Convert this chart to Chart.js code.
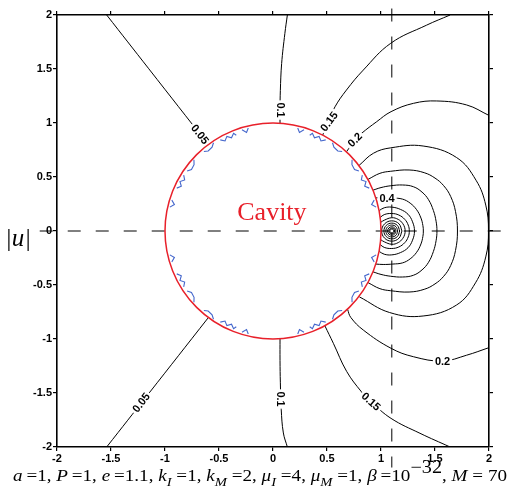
<!DOCTYPE html>
<html>
<head>
<meta charset="utf-8">
<script src="https://cdn.jsdelivr.net/npm/chart.js@4.4.1/dist/chart.umd.min.js"></script>
<style>
  html, body { margin: 0; padding: 0; background: #fff; }
  #wrap { width: 529px; height: 493px; }
</style>
</head>
<body>
<div id="wrap"><canvas id="c" width="529" height="493"></canvas></div>
<script>
// ---- axis ticks ----
const axisTicks = [-2, -1.5, -1, -0.5, 0, 0.5, 1, 1.5, 2];
const axisTickLabels = ['-2', '-1.5', '-1', '-0.5', '0', '0.5', '1', '1.5', '2'];

// ---- geometry: cavity of radius a at the origin, load at x = e ----
const cavity = { x: 0, y: 0, r: 1 };
const sourceX = 1.1;
const horizontalGuide = [-2.16, 2.2];   // x extent of the y = 0 dashed line
const verticalGuide = [2.06, -2.19];    // y extent of the x = e dashed line

// ---- contour lines of |u| ([x, y] pairs) ----
const level005Upper = [[-1.54, 2.0], [-1.15, 1.502], [-0.6, 0.8]];
const level005Lower = [[-1.54, -2.0], [-1.15, -1.504], [-0.602, -0.806]];
const level01Upper = [[0.133, 2.0], [0.11, 1.83], [0.08, 1.55], [0.068, 1.3], [0.065, 1.12], [0.065, 0.998]];
const level01Lower = [[0.065, -0.998], [0.065, -1.2], [0.068, -1.4], [0.076, -1.65], [0.096, -1.87], [0.133, -2.0]];
const level015Upper = [[1.64, 2.0], [1.42, 1.905], [1.09, 1.738], [0.836, 1.49], [0.68, 1.305], [0.574, 1.15], [0.514, 1.014], [0.46, 0.888]];
const level015Lower = [[0.48, -0.877], [0.559, -1.04], [0.682, -1.3], [0.82, -1.49], [0.907, -1.58], [1.093, -1.735], [1.361, -1.873], [1.64, -2.0]];
const level02Upper = [[0.68, 0.733], [0.759, 0.843], [0.821, 0.905], [0.96, 1.012], [1.093, 1.105], [1.3, 1.182], [1.516, 1.204], [1.793, 1.167], [2.0, 1.07]];
const level02Lower = [[0.69, -0.724], [0.72, -0.8], [0.836, -0.917], [1.093, -1.086], [1.3, -1.164], [1.57, -1.204], [1.793, -1.15], [2.0, -1.08]];
const level025 = [[0.797, 0.607], [0.93, 0.72], [1.09, 0.77], [1.39, 0.787], [1.7, 0.68], [1.88, 0.47], [1.97, 0.24], [1.995, 0],
                  [1.97, -0.24], [1.875, -0.48], [1.7, -0.685], [1.39, -0.787], [1.08, -0.755], [0.8, -0.61]];
const level03 = [[0.88, 0.478], [0.99, 0.534], [1.09, 0.553], [1.26, 0.565], [1.4, 0.54], [1.5, 0.49], [1.58, 0.42], [1.645, 0.32], [1.69, 0.18], [1.708, 0],
                 [1.69, -0.18], [1.645, -0.32], [1.58, -0.42], [1.5, -0.49], [1.4, -0.54], [1.26, -0.565], [1.09, -0.553], [0.99, -0.534], [0.88, -0.478]];
const level035 = [[0.926, 0.378], [1.0, 0.402], [1.09, 0.419], [1.2, 0.426], [1.3, 0.41], [1.38, 0.36], [1.44, 0.29], [1.485, 0.19], [1.51, 0.09], [1.518, 0],
                  [1.51, -0.09], [1.485, -0.19], [1.44, -0.29], [1.38, -0.36], [1.3, -0.41], [1.2, -0.426], [1.09, -0.419], [1.0, -0.402], [0.926, -0.378]];
const level04 = [[0.952, 0.306], [1.02, 0.31], [1.11, 0.306], [1.2, 0.295], [1.27, 0.258], [1.33, 0.197], [1.37, 0.12], [1.388, 0.05], [1.392, 0],
                 [1.388, -0.05], [1.37, -0.12], [1.33, -0.197], [1.27, -0.258], [1.2, -0.295], [1.11, -0.306], [1.02, -0.31], [0.952, -0.306]];
const level045 = [[0.985, 0.19], [1.03, 0.215], [1.1, 0.221], [1.18, 0.2], [1.25, 0.155], [1.292, 0.085], [1.31, 0],
                  [1.292, -0.085], [1.25, -0.155], [1.18, -0.2], [1.1, -0.221], [1.03, -0.215], [0.985, -0.19]];
const level05 = [[0.992, 0.125], [1.03, 0.152], [1.1, 0.162], [1.165, 0.148], [1.22, 0.108], [1.252, 0.055], [1.262, 0],
                 [1.252, -0.055], [1.22, -0.108], [1.165, -0.148], [1.1, -0.162], [1.03, -0.152], [0.992, -0.125]];
const level055 = [[0.997, 0.08], [1.03, 0.1], [1.1, 0.123], [1.16, 0.107], [1.2, 0.071], [1.22, 0.03], [1.223, 0],
                  [1.22, -0.03], [1.2, -0.071], [1.16, -0.107], [1.1, -0.123], [1.03, -0.1], [0.997, -0.08]];
// closed rings around the load
const ring1 = [[1.194, 0], [1.1665, 0.0665], [1.1, 0.094], [1.0335, 0.0665], [1.006, 0], [1.0335, -0.0665], [1.1, -0.094], [1.1665, -0.0665], [1.194, 0]];
const ring2 = [[1.173, 0], [1.1516, 0.0516], [1.1, 0.073], [1.0484, 0.0516], [1.027, 0], [1.0484, -0.0516], [1.1, -0.073], [1.1516, -0.0516], [1.173, 0]];
const ring3 = [[1.155, 0], [1.1389, 0.0389], [1.1, 0.055], [1.0611, 0.0389], [1.045, 0], [1.0611, -0.0389], [1.1, -0.055], [1.1389, -0.0389], [1.155, 0]];
const ring4 = [[1.139, 0], [1.1276, 0.0276], [1.1, 0.039], [1.0724, 0.0276], [1.061, 0], [1.0724, -0.0276], [1.1, -0.039], [1.1276, -0.0276], [1.139, 0]];
const ring5 = [[1.127, 0], [1.1191, 0.0191], [1.1, 0.027], [1.0809, 0.0191], [1.073, 0], [1.0809, -0.0191], [1.1, -0.027], [1.1191, -0.0191], [1.127, 0]];
const ring6 = [[1.118, 0], [1.1127, 0.0127], [1.1, 0.018], [1.0873, 0.0127], [1.082, 0], [1.0873, -0.0127], [1.1, -0.018], [1.1127, -0.0127], [1.118, 0]];

const contourLines = [level005Upper, level005Lower, level01Upper, level01Lower, level015Upper, level015Lower,
  level02Upper, level02Lower, level025, level03, level035, level04, level045, level05, level055,
  ring1, ring2, ring3, ring4, ring5, ring6];

// ---- small spurious contour pieces just inside the cavity wall ----
const wallPieces = [
  [[0.955, 0.221], [0.913, 0.245], [0.937, 0.286]],
  [[0.891, 0.397], [0.849, 0.414], [0.861, 0.458], [0.818, 0.473], [0.827, 0.517]],
  [[0.795, 0.556], [0.755, 0.569], [0.731, 0.614], [0.732, 0.659]],
  [[0.640, 0.736], [0.600, 0.741], [0.564, 0.777], [0.551, 0.817]],
  [[0.488, 0.844], [0.444, 0.834], [0.427, 0.876], [0.384, 0.863], [0.365, 0.904], [0.340, 0.887]],
  [[0.287, 0.937], [0.245, 0.913], [0.229, 0.953]],
  [[-0.955, 0.221], [-0.913, 0.245], [-0.937, 0.286]],
  [[-0.891, 0.397], [-0.849, 0.414], [-0.861, 0.458], [-0.818, 0.473], [-0.827, 0.517]],
  [[-0.795, 0.556], [-0.755, 0.569], [-0.731, 0.614], [-0.732, 0.659]],
  [[-0.640, 0.736], [-0.600, 0.741], [-0.564, 0.777], [-0.551, 0.817]],
  [[-0.488, 0.844], [-0.444, 0.834], [-0.427, 0.876], [-0.384, 0.863], [-0.365, 0.904], [-0.340, 0.887]],
  [[-0.287, 0.937], [-0.245, 0.913], [-0.229, 0.953]],
  [[0.955, -0.221], [0.913, -0.245], [0.937, -0.286]],
  [[0.891, -0.397], [0.849, -0.414], [0.861, -0.458], [0.818, -0.473], [0.827, -0.517]],
  [[0.795, -0.556], [0.755, -0.569], [0.731, -0.614], [0.732, -0.659]],
  [[0.640, -0.736], [0.600, -0.741], [0.564, -0.777], [0.551, -0.817]],
  [[0.488, -0.844], [0.444, -0.834], [0.427, -0.876], [0.384, -0.863], [0.365, -0.904], [0.340, -0.887]],
  [[0.287, -0.937], [0.245, -0.913], [0.229, -0.953]],
  [[-0.955, -0.221], [-0.913, -0.245], [-0.937, -0.286]],
  [[-0.891, -0.397], [-0.849, -0.414], [-0.861, -0.458], [-0.818, -0.473], [-0.827, -0.517]],
  [[-0.795, -0.556], [-0.755, -0.569], [-0.731, -0.614], [-0.732, -0.659]],
  [[-0.640, -0.736], [-0.600, -0.741], [-0.564, -0.777], [-0.551, -0.817]],
  [[-0.488, -0.844], [-0.444, -0.834], [-0.427, -0.876], [-0.384, -0.863], [-0.365, -0.904], [-0.340, -0.887]],
  [[-0.287, -0.937], [-0.245, -0.913], [-0.229, -0.953]]
];

// ---- contour level labels: text, anchor (data units), angle (deg) ----
const contourLabels = [
  { text: '0.05', x: -0.676, y: 0.895, angle: 52 },
  { text: '0.05', x: -1.22, y: -1.59, angle: -52 },
  { text: '0.1', x: 0.066, y: 1.12, angle: 90 },
  { text: '0.1', x: 0.074, y: -1.556, angle: 90 },
  { text: '0.15', x: 0.52, y: 1.014, angle: -53 },
  { text: '0.15', x: 0.907, y: -1.58, angle: 42 },
  { text: '0.2', x: 0.759, y: 0.843, angle: -45 },
  { text: '0.2', x: 1.57, y: -1.204, angle: 0 },
  { text: '0.4', x: 1.056, y: 0.304, angle: 0 }
];
const cavityLabel = { text: 'Cavity', x: -0.01, y: 0.1 };
const yTitle = '|u|';
const captionParts = [
  ['a', 'i'], ['\u2009=1, ', 'r'], ['P', 'i'], ['\u2009=1, ', 'r'], ['e', 'i'], ['\u2009=1.1, ', 'r'],
  ['k', 'i'], ['I', 'sub'], [' =1, ', 'r'], ['k', 'i'], ['M', 'sub'], [' =2, ', 'r'],
  ['\u03bc', 'i'], ['I', 'sub'], [' =4, ', 'r'], ['\u03bc', 'i'], ['M', 'sub'], [' =1, ', 'r'],
  ['\u03b2', 'i'], ['\u2009=10', 'r'], ['\u221232', 'sup'], [', ', 'r'], ['M', 'i'], [' = 70', 'r']
];

const SANS = '"Liberation Sans", Arial, Helvetica, sans-serif';
const SERIF = '"Liberation Serif", "Times New Roman", Times, serif';
const RED = '#e8202a';

const toPoints = arr => arr.map(p => ({ x: p[0], y: p[1] }));

const datasets = [];
contourLines.forEach(line => datasets.push({
  data: toPoints(line), showLine: true, borderColor: '#000', borderWidth: 1,
  pointRadius: 0, tension: 0.4, fill: false
}));
wallPieces.forEach(piece => datasets.push({
  data: toPoints(piece), showLine: true, borderColor: '#4466cc', borderWidth: 1.1,
  pointRadius: 0, tension: 0, fill: false
}));
datasets.push({
  data: horizontalGuide.map(x => ({ x: x, y: 0 })), showLine: true, borderColor: '#000',
  borderWidth: 1, borderDash: [13, 15], pointRadius: 0, tension: 0, clip: false
});
datasets.push({
  data: verticalGuide.map(y => ({ x: sourceX, y: y })), showLine: true, borderColor: '#000',
  borderWidth: 1, borderDash: [13, 15], pointRadius: 0, tension: 0, clip: false
});

function axisOptions(position, labelled, size) {
  const horizontal = position === 'top' || position === 'bottom';
  return {
    type: 'linear', position: position, min: -2, max: 2,
    afterBuildTicks: s => { s.ticks = axisTicks.map(v => ({ value: v })); },
    afterFit: s => { if (horizontal) s.height = size; else s.width = size; },
    ticks: {
      display: labelled, autoSkip: false, maxRotation: 0, padding: 1, color: '#000',
      font: { family: SANS, size: 11, weight: 'bold' },
      callback: v => axisTickLabels[axisTicks.indexOf(v)]
    },
    grid: { drawOnChartArea: false, drawTicks: true, tickLength: 4, color: '#000', lineWidth: 1.2 },
    border: { display: true, color: '#000', width: 1.6 }
  };
}

const overlay = {
  id: 'overlay',
  afterDatasetsDraw(chart) {
    const { ctx } = chart;
    const xs = chart.scales.x, ys = chart.scales.y;
    ctx.save();
    // level labels, each on a white patch that breaks its line
    ctx.font = 'bold 11px ' + SANS;
    ctx.textAlign = 'center';
    ctx.textBaseline = 'middle';
    contourLabels.forEach(l => {
      const px = xs.getPixelForValue(l.x), py = ys.getPixelForValue(l.y);
      const w = ctx.measureText(l.text).width;
      ctx.save();
      ctx.translate(px, py);
      ctx.rotate(l.angle * Math.PI / 180);
      ctx.fillStyle = '#fff';
      ctx.fillRect(-w / 2 - 2, -5.5, w + 4, 11);
      ctx.fillStyle = '#000';
      ctx.fillText(l.text, 0, 0.5);
      ctx.restore();
    });
    // cavity wall
    const cx = xs.getPixelForValue(cavity.x), cy = ys.getPixelForValue(cavity.y);
    const r = xs.getPixelForValue(cavity.x + cavity.r) - cx;
    ctx.beginPath();
    ctx.arc(cx, cy, r, 0, Math.PI * 2);
    ctx.strokeStyle = RED;
    ctx.lineWidth = 1.5;
    ctx.stroke();
    ctx.font = '26px ' + SERIF;
    ctx.fillStyle = RED;
    ctx.textBaseline = 'alphabetic';
    ctx.fillText(cavityLabel.text, xs.getPixelForValue(cavityLabel.x), ys.getPixelForValue(cavityLabel.y));
    ctx.restore();
  },
  afterDraw(chart) {
    const { ctx } = chart;
    ctx.save();
    // vertical axis title
    ctx.font = 'italic 25px ' + SERIF;
    ctx.fillStyle = '#000';
    ctx.textAlign = 'center';
    ctx.textBaseline = 'alphabetic';
    ctx.fillText(yTitle, 18, 246);
    // parameter line under the plot
    const fonts = {
      i: 'italic 17px ' + SERIF, r: '17px ' + SERIF,
      sub: 'italic 13px ' + SERIF, sup: '18px ' + SERIF
    };
    const shift = { i: 0, r: 0, sub: 5, sup: -8 };
    let total = 0;
    captionParts.forEach(p => { ctx.font = fonts[p[1]]; total += ctx.measureText(p[0]).width; });
    const left = 13, right = 507;
    const k = (right - left) / total;
    ctx.translate(left, 481);
    ctx.scale(k, 1);
    ctx.textAlign = 'left';
    let cur = 0;
    captionParts.forEach(p => {
      ctx.font = fonts[p[1]];
      ctx.fillText(p[0], cur, shift[p[1]]);
      cur += ctx.measureText(p[0]).width;
    });
    ctx.restore();
  }
};

new Chart(document.getElementById('c'), {
  type: 'scatter',
  data: { datasets: datasets },
  options: {
    responsive: false,
    animation: false,
    devicePixelRatio: 1,
    layout: { padding: 0 },
    plugins: { legend: { display: false }, tooltip: { enabled: false } },
    scales: {
      x: axisOptions('bottom', true, 46),
      x2: axisOptions('top', false, 15),
      y: axisOptions('left', true, 57),
      y2: axisOptions('right', false, 40)
    }
  },
  plugins: [overlay]
});
</script>
</body>
</html>
